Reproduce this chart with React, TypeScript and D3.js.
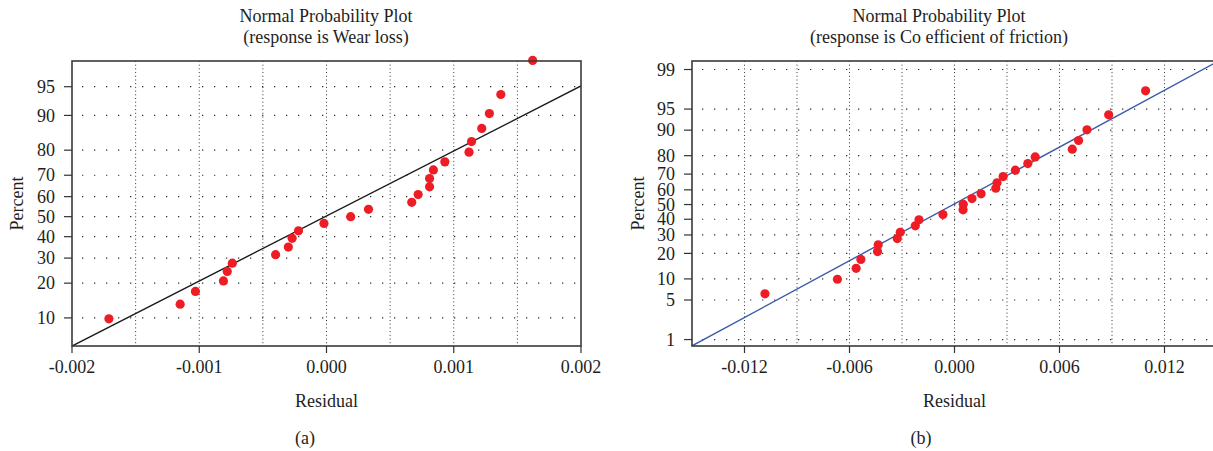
import * as d3 from "d3";

// (a) Wear loss: residual vs. percent
const wearResidual = [
  -0.00171, -0.00115, -0.00103, -0.00081, -0.00078, -0.00074, -0.0004, -0.0003,
  -0.00027, -0.00022, -0.00002, 0.00019, 0.00033, 0.00067, 0.00072, 0.00081,
  0.00081, 0.00084, 0.00093, 0.00112, 0.00114, 0.00122, 0.00128, 0.00137, 0.00162,
];
const wearPercent = [
  9.8, 13.4, 17.2, 20.8, 24.4, 27.8, 31.5, 35.0, 39.2, 42.9, 46.6, 50.0, 53.7,
  57.2, 61.0, 64.7, 68.5, 72.3, 75.6, 79.3, 82.9, 86.8, 90.4, 93.9, 97.6,
];
const wearFit = { mean: -0.00001, sd: 0.001215 };
const wearXTicks = [-0.002, -0.001, 0, 0.001, 0.002];
const wearXGrid = [-0.0015, -0.001, -0.0005, 0, 0.0005, 0.001, 0.0015];
const wearYTicks = [10, 20, 30, 40, 50, 60, 70, 80, 90, 95];

// (b) Coefficient of friction
const frictionResidual = [
  -0.01083, -0.00669, -0.00562, -0.00535, -0.0044, -0.00436, -0.00327, -0.0031,
  -0.00224, -0.00203, -0.00066, 0.00049, 0.0005, 0.001, 0.00152, 0.00236,
  0.00243, 0.00278, 0.00348, 0.00419, 0.00461, 0.00673, 0.00709, 0.00757,
  0.00881, 0.01092,
];
const frictionPercent = [
  6.2, 9.9, 13.6, 17.2, 20.9, 24.4, 27.9, 31.6, 35.7, 39.6, 43.2, 46.4, 50.2,
  54.1, 57.3, 61.1, 64.6, 68.5, 72.3, 76.0, 79.4, 83.0, 86.5, 90.1, 93.9, 97.5,
];
const frictionFit = { mean: -0.00007, sd: 0.00613 };
const frictionXTicks = [-0.012, -0.006, 0, 0.006, 0.012];
const frictionXGrid = [-0.012, -0.009, -0.006, -0.003, 0, 0.003, 0.006, 0.009, 0.012];
const frictionYTicks = [1, 5, 10, 20, 30, 40, 50, 60, 70, 80, 90, 95, 99];

const FONT = "'Liberation Serif', 'Times New Roman', serif";

// inverse normal cdf (Acklam), used for the probability axis
function probit(p: number) {
  const a = [-39.69683028665376, 220.9460984245205, -275.9285104469687, 138.357751867269, -30.66479806614716, 2.506628277459239];
  const b = [-54.47609879822406, 161.5858368580409, -155.6989798598866, 66.80131188771972, -13.28068155288572];
  const c = [-0.007784894002430293, -0.3223964580411365, -2.400758277161838, -2.549732539343734, 4.374664141464968, 2.938163982698783];
  const dd = [0.007784695709041462, 0.3224671290700398, 2.445134137142996, 3.754408661907416];
  const pl = 0.02425;
  let q, r;
  if (p < pl) {
    q = Math.sqrt(-2 * Math.log(p));
    return (((((c[0] * q + c[1]) * q + c[2]) * q + c[3]) * q + c[4]) * q + c[5]) / ((((dd[0] * q + dd[1]) * q + dd[2]) * q + dd[3]) * q + 1);
  }
  if (p > 1 - pl) {
    q = Math.sqrt(-2 * Math.log(1 - p));
    return -(((((c[0] * q + c[1]) * q + c[2]) * q + c[3]) * q + c[4]) * q + c[5]) / ((((dd[0] * q + dd[1]) * q + dd[2]) * q + dd[3]) * q + 1);
  }
  q = p - 0.5;
  r = q * q;
  return ((((((a[0] * r + a[1]) * r + a[2]) * r + a[3]) * r + a[4]) * r + a[5]) * q) / (((((b[0] * r + b[1]) * r + b[2]) * r + b[3]) * r + b[4]) * r + 1);
}

type PanelProps = {
  id: string;
  left: number;
  right: number;
  top: number;
  bottom: number;
  xDomain: [number, number];
  xTicks: number[];
  xGrid: number[];
  yTicks: number[];
  pctRange: [number, number];
  residual: number[];
  percent: number[];
  fit: { mean: number; sd: number };
  lineColor: string;
  title: string[];
  titleX: number;
  percentX: number;
  caption: string;
  captionX: number;
};

const fmt3 = d3.format(".3f");
const tickFmt = (v: number) => fmt3(v).replace("\u2212", "-");

const Panel = (p: PanelProps) => {
  const x = d3.scaleLinear().domain(p.xDomain).range([p.left, p.right]);
  const y = d3
    .scaleLinear()
    .domain([probit(p.pctRange[0] / 100), probit(p.pctRange[1] / 100)])
    .range([p.bottom, p.top]);

  const fitPts: [number, number][] = p.xDomain.map((v) => [v, (v - p.fit.mean) / p.fit.sd]);
  const line = d3
    .line<[number, number]>()
    .x((d) => x(d[0]))
    .y((d) => y(d[1]));

  const midX = x(0);
  const yMid = (p.top + p.bottom) / 2;

  return (
    <g fontFamily={FONT} fill="#1e1e1e">
      <defs>
        <clipPath id={p.id}>
          <rect x={p.left} y={p.top} width={p.right - p.left} height={p.bottom - p.top} />
        </clipPath>
      </defs>
      {/* grid */}
      {p.xGrid.map((v) => (
        <line key={"vg" + v} x1={x(v)} x2={x(v)} y1={p.top} y2={p.bottom}
          stroke="#333" strokeWidth={1} strokeDasharray="1 2.7" />
      ))}
      {p.yTicks.map((t) => (
        <line key={"hg" + t} x1={p.left + 10} x2={p.right} y1={y(probit(t / 100))} y2={y(probit(t / 100))}
          stroke="#333" strokeWidth={1.2} strokeDasharray="1.3 10.7" />
      ))}
      {/* fit line */}
      <path d={line(fitPts) || ""} fill="none" stroke={p.lineColor} strokeWidth={1.4} clipPath={`url(#${p.id})`} />
      {/* points */}
      {p.residual.map((r, i) => (
        <circle key={i} cx={x(r)} cy={y(probit(p.percent[i] / 100))} r={4.6} fill="#ee1d25" />
      ))}
      {/* frame */}
      <rect x={p.left} y={p.top} width={p.right - p.left} height={p.bottom - p.top}
        fill="none" stroke="#3a3a3a" strokeWidth={1.6} />
      {/* y axis */}
      {p.yTicks.map((t) => {
        const yy = y(probit(t / 100));
        return (
          <g key={"yt" + t}>
            <line x1={p.left - 8} x2={p.left} y1={yy} y2={yy} stroke="#333" strokeWidth={1.2} />
            <text x={p.left - 17} y={yy} dy="0.34em" textAnchor="end" fontSize={18}>{t}</text>
          </g>
        );
      })}
      {/* x axis */}
      {p.xTicks.map((t) => (
        <g key={"xt" + t}>
          <line x1={x(t)} x2={x(t)} y1={p.bottom} y2={p.bottom + 7} stroke="#333" strokeWidth={1.2} />
          <text x={x(t)} y={373} textAnchor="middle" fontSize={18}>{tickFmt(t)}</text>
        </g>
      ))}
      <text x={midX} y={407} textAnchor="middle" fontSize={18}>Residual</text>
      <text transform={`translate(${p.percentX},${yMid}) rotate(-90)`} textAnchor="middle" fontSize={18}>Percent</text>
      <text x={p.titleX} y={22} textAnchor="middle" fontSize={18}>{p.title[0]}</text>
      <text x={p.titleX} y={43} textAnchor="middle" fontSize={18}>{p.title[1]}</text>
      <text x={p.captionX} y={444} textAnchor="middle" fontSize={18}>{p.caption}</text>
    </g>
  );
};

export default function App() {
  return (
    <svg width={1213} height={451} style={{ position: "absolute", left: 0, top: 0, background: "#fff" }}>
      <Panel
        id="clipA"
        left={72}
        right={581}
        top={61}
        bottom={346}
        xDomain={[-0.002, 0.002]}
        xTicks={wearXTicks}
        xGrid={wearXGrid}
        yTicks={wearYTicks}
        pctRange={[5.08, 97.56]}
        residual={wearResidual}
        percent={wearPercent}
        fit={wearFit}
        lineColor="#1a1a1a"
        title={["Normal Probability Plot", "(response is Wear loss)"]}
        titleX={326}
        percentX={23}
        caption="(a)"
        captionX={305}
      />
      <Panel
        id="clipB"
        left={692}
        right={1217}
        top={61}
        bottom={346}
        xDomain={[-0.015, 0.015]}
        xTicks={frictionXTicks}
        xGrid={frictionXGrid}
        yTicks={frictionYTicks}
        pctRange={[0.74, 99.33]}
        residual={frictionResidual}
        percent={frictionPercent}
        fit={frictionFit}
        lineColor="#3a5bab"
        title={["Normal Probability Plot", "(response is Co efficient of friction)"]}
        titleX={939}
        percentX={644}
        caption="(b)"
        captionX={921}
      />
    </svg>
  );
}
